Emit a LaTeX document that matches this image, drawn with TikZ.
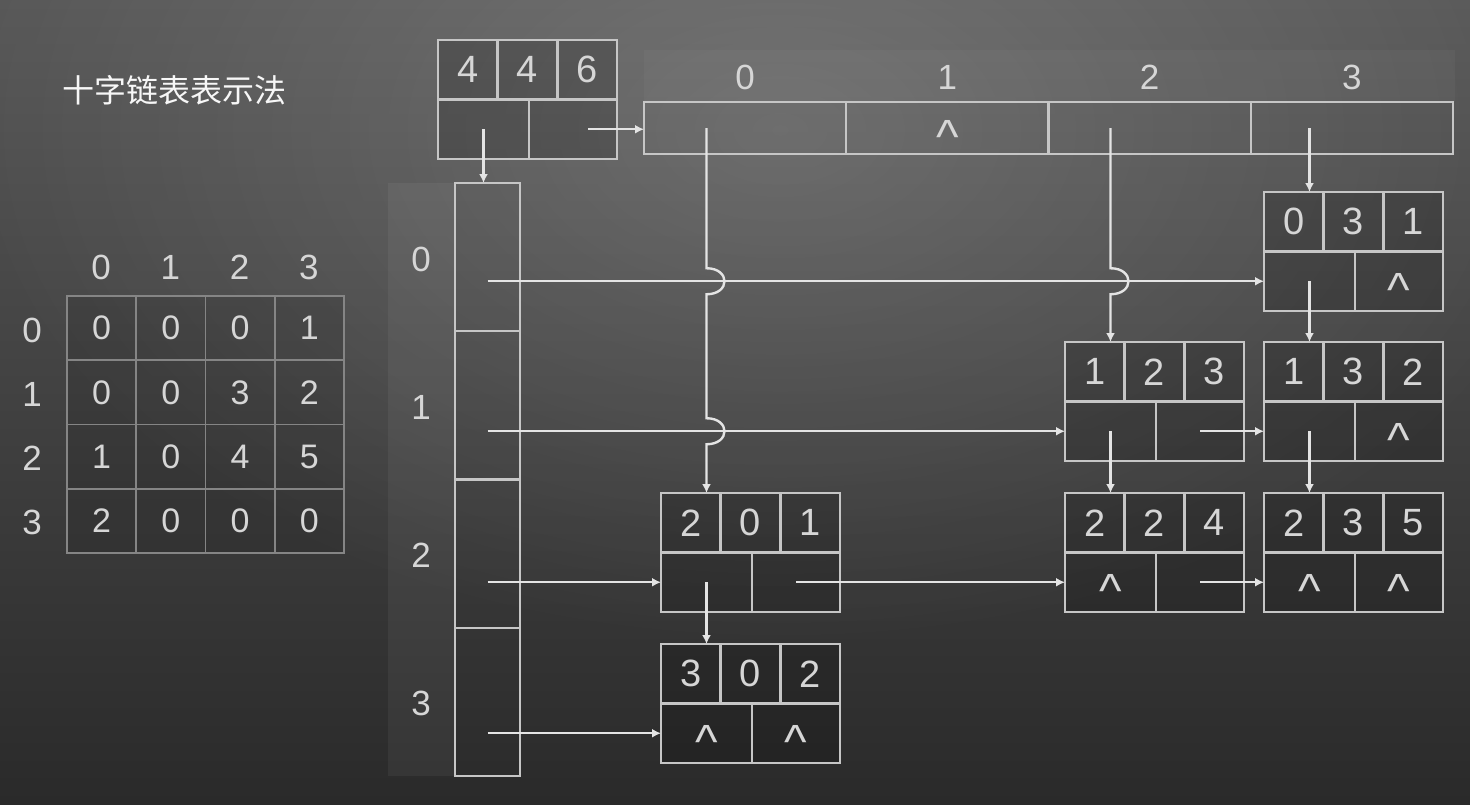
\documentclass[tikz,border=0pt]{standalone}
\usepackage{fontspec}
\setmainfont{Liberation Sans}
\newfontfamily\cjk{Noto Sans CJK SC}
\usetikzlibrary{arrows.meta,calc,fadings}
\definecolor{ln}{HTML}{C6C6C6}
\definecolor{tx}{HTML}{D6D6D6}
\definecolor{ar}{HTML}{E4E4E4}
\definecolor{bgtop}{HTML}{585858}
\definecolor{bgbot}{HTML}{2A2A2A}
\definecolor{grid}{HTML}{858585}
\tikzfading[name=glow, inner color=transparent!0, outer color=transparent!100]
\newcommand\caretsym{{\fontsize{48}{48}\selectfont\raisebox{-0.33em}[0.40em][0pt]{\textasciicircum}}}
\newcommand\xlnode[8]{%
  \node[olbox, anchor=north west] (#1) at (#2,#3) {};
  \node[olcell, minimum width=59.67pt, minimum height=59.5pt, anchor=north west] (#1-i) at (#2,#3) {#4};
  \node[olcell, minimum width=59.67pt, minimum height=59.5pt, anchor=north west] (#1-j) at ({#2+59.67},#3) {#5};
  \node[olcell, minimum width=59.67pt, minimum height=59.5pt, anchor=north west] (#1-v) at ({#2+119.33},#3) {#6};
  \node[olcell, minimum width=91pt, minimum height=59.5pt, anchor=north west] (#1-d) at (#2,{#3+59.5}) {#7};
  \node[olcell, minimum width=88pt, minimum height=59.5pt, anchor=north west] (#1-r) at ({#2+91},{#3+59.5}) {#8};
}
\begin{document}
\begin{tikzpicture}[x=1pt,y=-1pt,
  olbox/.style={draw=ln, line width=2.4pt, fill=black, fill opacity=0.18, minimum width=179pt, minimum height=119pt, inner sep=0pt, outer sep=0pt},
  olcell/.style={draw=ln, line width=2.4pt, inner sep=0pt, outer sep=0pt, text=tx, font=\fontsize{38}{39}\selectfont},
  lbl/.style={text=tx, inner sep=0pt, font=\fontsize{35}{36}\selectfont},
  mcell/.style={draw=grid, line width=1.6pt, fill=black, fill opacity=0.1, text opacity=1, minimum width=69.25pt, minimum height=64.25pt, inner sep=0pt, outer sep=0pt, anchor=north west, text=tx, font=\fontsize{34}{35}\selectfont},
  hcell/.style={draw=ln, line width=2.4pt, inner sep=0pt, outer sep=0pt},
  arr/.style={draw=ar, line width=2.4pt, -{Latex[length=9pt,width=9pt]}},
]
\useasboundingbox (0,0) rectangle (1470,804);
% background
\shade[top color=bgtop, bottom color=bgbot] (0,0) rectangle (1470,804);
\fill[white, opacity=0.17, path fading=glow] (780,130) ellipse (820 and 520);

% title
\node[text=white!94!gray, font=\cjk\fontsize{32}{34}\selectfont, inner sep=0pt] (title) at (174,90) {十字链表表示法};

% matrix
\foreach \c in {0,1,2,3} {
  \node[lbl] (mc\c) at ({101+69.25*\c},267) {\c};
  \node[lbl] (mr\c) at (32,{330+64.25*\c}) {\c};
}
\foreach \r/\vals in {0/{0,0,0,1},1/{0,0,3,2},2/{1,0,4,5},3/{2,0,0,0}} {
  \foreach \v [count=\c from 0] in \vals {
    \node[mcell] (m-\r-\c) at ({67+69.25*\c},{296+64.25*\r}) {\v};
  }
}

% column header band and cells
\fill[white, opacity=0.03] (644,50) rectangle (1455,102);
\foreach \c in {0,1,2,3} {
  \node[hcell, minimum width=202.25pt, minimum height=52pt, anchor=north west] (c\c) at ({644+202.25*\c},102) {};
  \node[lbl] (cl\c) at (c\c.center |- 0,77) {\c};
}
\node[text=tx, inner sep=0pt] at (c1.center) {\caretsym};

% row header band and cells
\fill[white, opacity=0.05] (388,183) rectangle (455,776);
\node[hcell, minimum width=65pt, minimum height=593pt, anchor=north west] (rh) at (455,183) {};
\foreach \r in {0,1,2,3} {
  \node[hcell, minimum width=65pt, minimum height=148.25pt, anchor=north west] (r\r) at (455,{183+148.25*\r}) {};
  \node[lbl] (rl\r) at (421, {259+148.3*\r}) {\r};
}

% nodes
\xlnode{hd}{438}{40}{4}{4}{6}{}{}
\xlnode{n031}{1264}{192}{0}{3}{1}{}{\caretsym}
\xlnode{n123}{1065}{342}{1}{2}{3}{}{}
\xlnode{n132}{1264}{342}{1}{3}{2}{}{\caretsym}
\xlnode{n201}{661}{493}{2}{0}{1}{}{}
\xlnode{n224}{1065}{493}{2}{2}{4}{\caretsym}{}
\xlnode{n235}{1264}{493}{2}{3}{5}{\caretsym}{\caretsym}
\xlnode{n302}{661}{644}{3}{0}{2}{\caretsym}{\caretsym}

% header pointers
\draw[arr] (hd-d.center) -- (hd-d.center |- rh.north);
\draw[arr] ([xshift=15pt]hd-r.center) -- (hd-r.center -| c0.west);

% row pointers
\draw[arr] (r0.center |- n031-d.west) -- (n031-d.west);
\draw[arr] (r1.center |- n123-d.west) -- (n123-d.west);
\draw[arr] (r2.center |- n201-d.west) -- (n201-d.west);
\draw[arr] (r3.center |- n302-d.west) -- (n302-d.west);

% crossing points
\coordinate (x00) at (n201-d.center |- n031-d.west);
\coordinate (x01) at (n201-d.center |- n123-d.west);
\coordinate (x20) at (n123-d.center |- n031-d.west);

% column pointers with jumps
\draw[arr] (n201-d.center |- c0.center)
  -- ($(x00)+(0,-13)$) .. controls +(24,0) and +(24,0) .. ($(x00)+(0,13)$)
  -- ($(x01)+(0,-13)$) .. controls +(24,0) and +(24,0) .. ($(x01)+(0,13)$)
  -- (n201-d.center |- n201.north);
\draw[arr] (n123-d.center |- c2.center)
  -- ($(x20)+(0,-13)$) .. controls +(24,0) and +(24,0) .. ($(x20)+(0,13)$)
  -- (n123-d.center |- n123.north);
\draw[arr] (n031-d.center |- c3.center) -- (n031-d.center |- n031.north);

% down pointers
\draw[arr] (n031-d.center) -- (n031-d.center |- n132.north);
\draw[arr] (n123-d.center) -- (n123-d.center |- n224.north);
\draw[arr] (n132-d.center) -- (n132-d.center |- n235.north);
\draw[arr] (n201-d.center) -- (n201-d.center |- n302.north);

% right pointers
\draw[arr] (n123-r.center) -- (n132-d.west);
\draw[arr] (n201-r.center) -- (n224-d.west);
\draw[arr] (n224-r.center) -- (n235-d.west);
\end{tikzpicture}
\end{document}
